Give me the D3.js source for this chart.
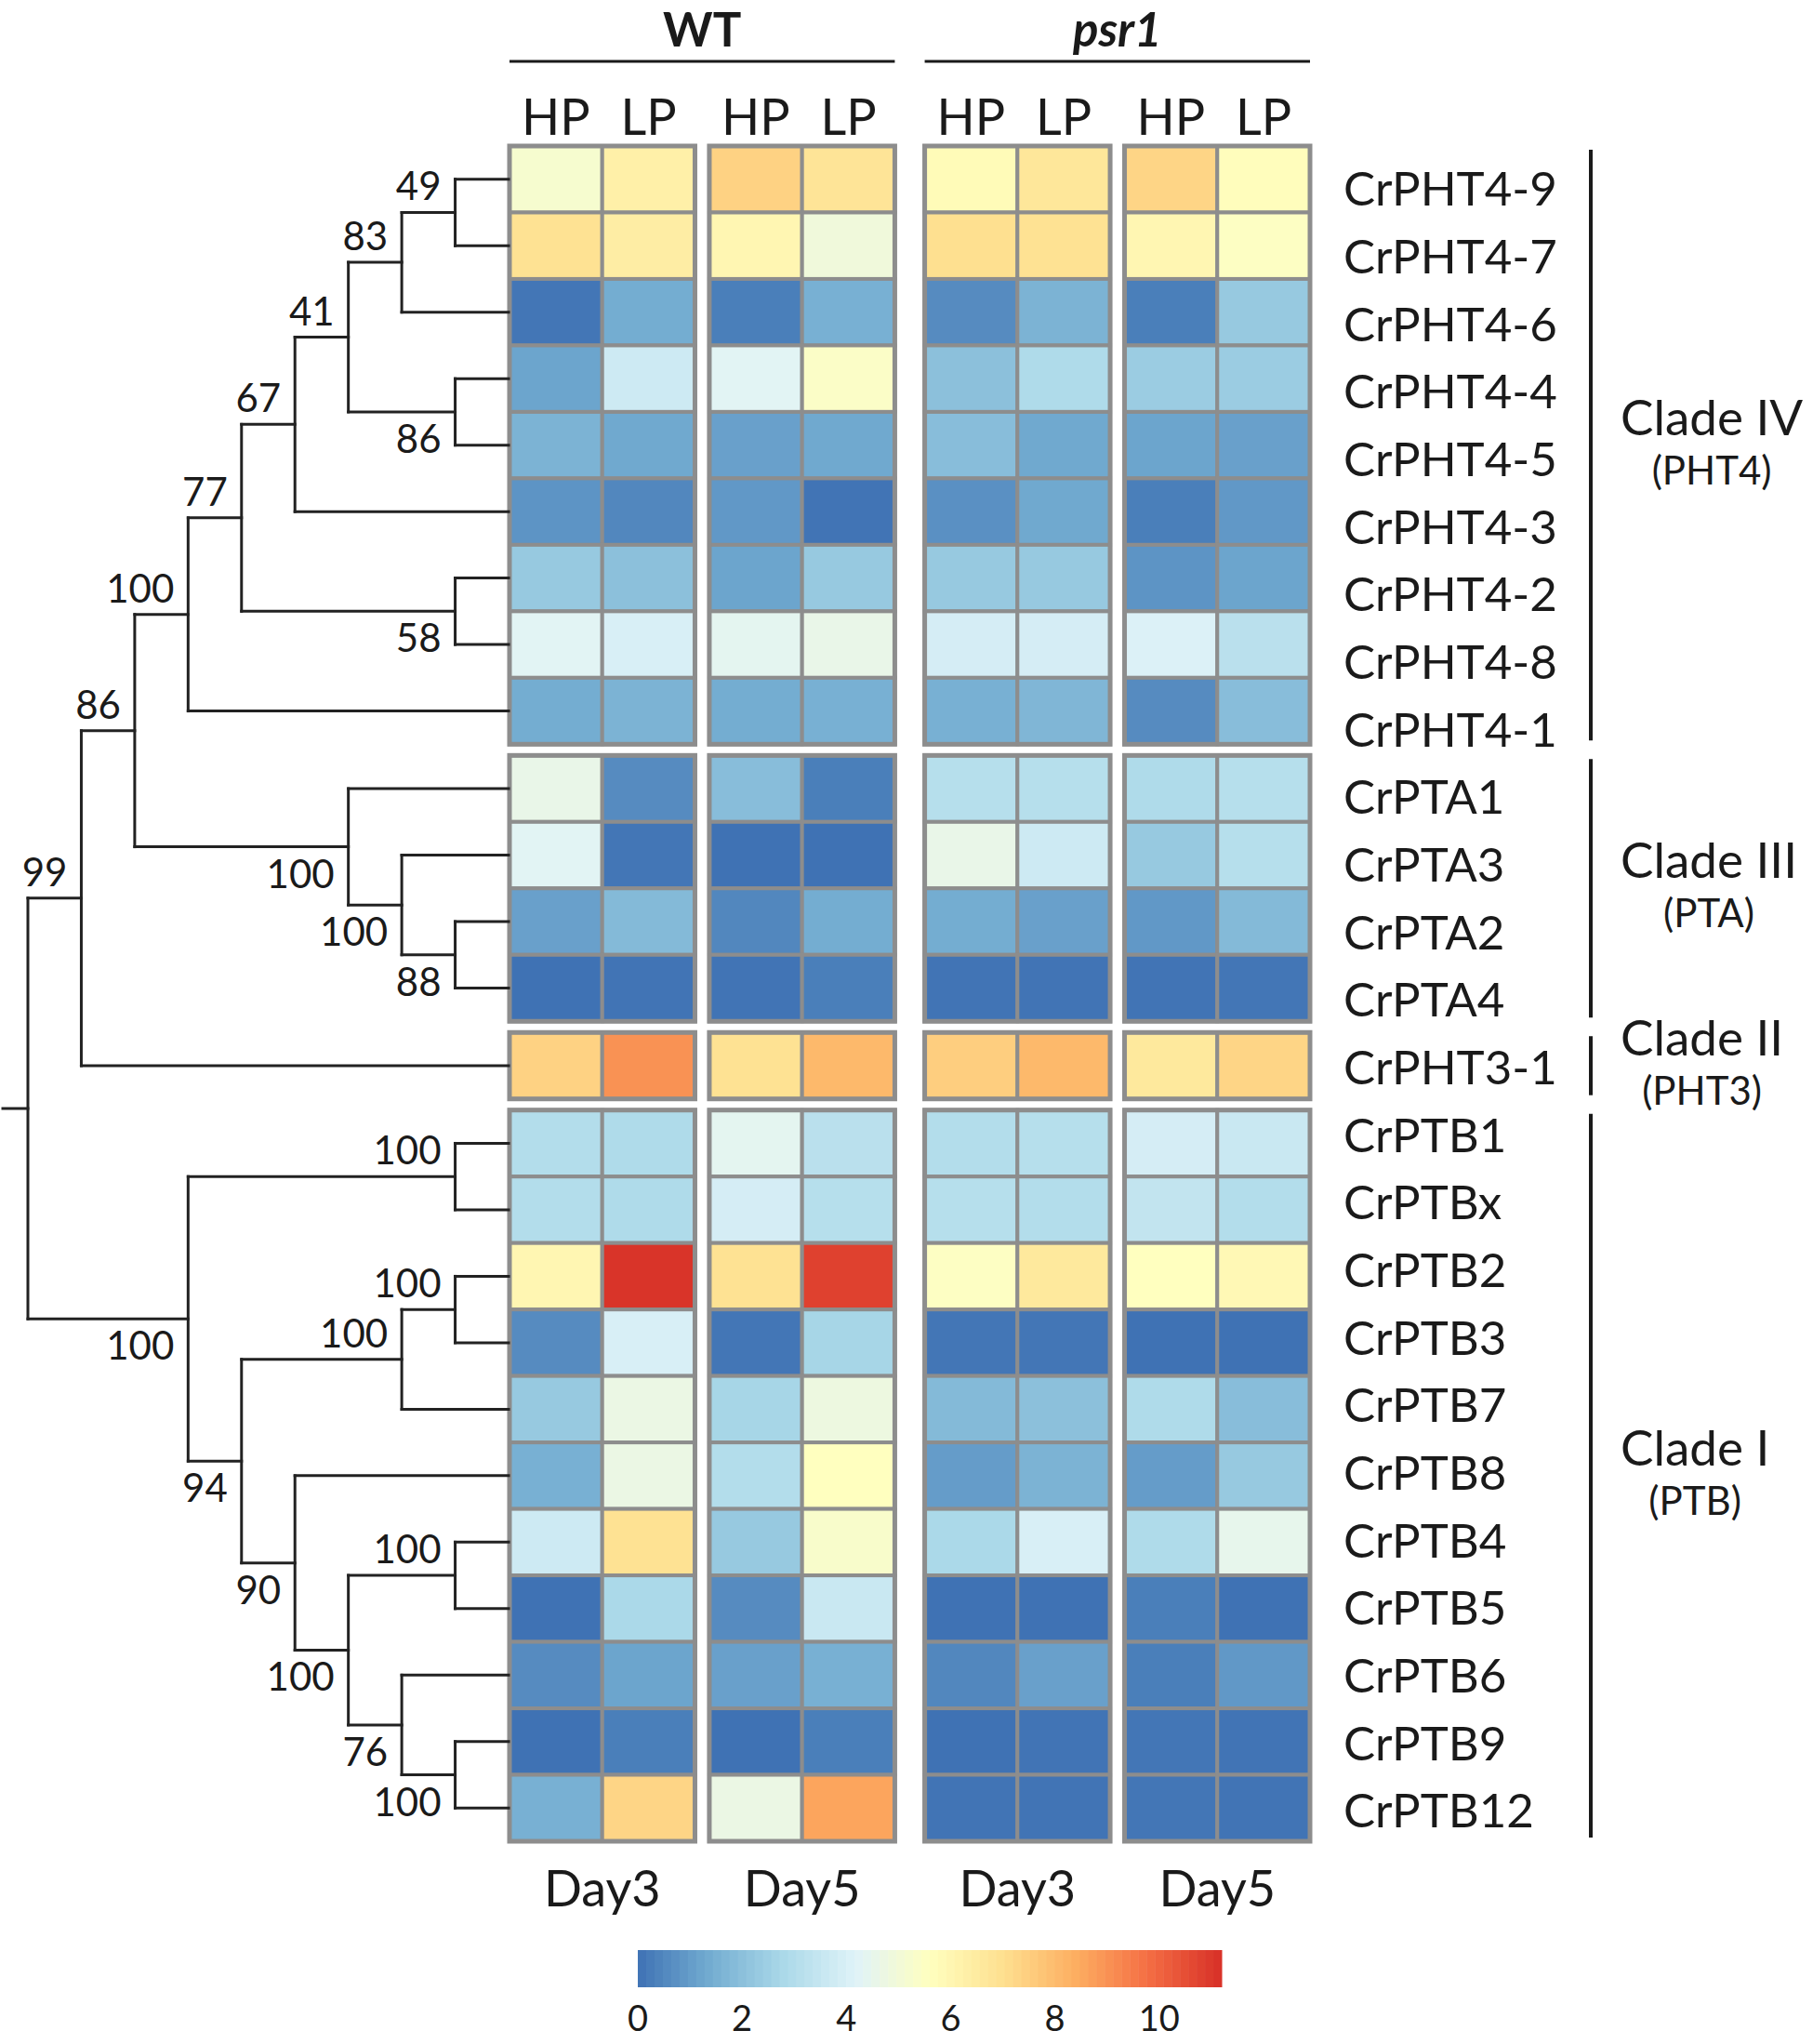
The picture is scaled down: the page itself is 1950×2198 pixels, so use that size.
<!DOCTYPE html>
<html>
<head>
<meta charset="utf-8">
<script src="https://cdn.jsdelivr.net/npm/d3@7"></script>
<style>
body { margin: 0; background: #fff; }
text { font-family: Lato, "Open Sans", sans-serif; fill: #1a1a1a; }
</style>
</head>
<body>
<svg id="chart" width="1950" height="2198"></svg>
<script>
// rows, top to bottom
const genes = ["CrPHT4-9","CrPHT4-7","CrPHT4-6","CrPHT4-4","CrPHT4-5","CrPHT4-3","CrPHT4-2","CrPHT4-8","CrPHT4-1",
	"CrPTA1","CrPTA3","CrPTA2","CrPTA4","CrPHT3-1",
	"CrPTB1","CrPTBx","CrPTB2","CrPTB3","CrPTB7","CrPTB8","CrPTB4","CrPTB5","CrPTB6","CrPTB9","CrPTB12"];
const cladeNames = ["Clade IV","Clade III","Clade II","Clade I"];
const cladeSubs = ["(PHT4)","(PTA)","(PHT3)","(PTB)"];
const cladeSizes = [9, 4, 1, 11];

const genotypes = ["WT","psr1"];
const days = ["Day3","Day5"];
const conditions = ["HP","LP"];

// columns: WT D3 HP, WT D3 LP, WT D5 HP, WT D5 LP, psr1 D3 HP, psr1 D3 LP, psr1 D5 HP, psr1 D5 LP
const expr = [
	[5.2, 6.3, 7.4, 6.8, 5.8, 6.7, 7.3, 5.7],
	[6.9, 6.4, 6.0, 4.9, 7.0, 6.9, 6.0, 5.5],
	[0.1, 1.4, 0.3, 1.5, 0.6, 1.6, 0.3, 2.3],
	[1.2, 3.7, 4.3, 5.4, 2.0, 2.9, 2.4, 2.4],
	[1.6, 1.3, 1.1, 1.3, 1.9, 1.3, 1.2, 1.1],
	[0.8, 0.5, 0.9, 0.05, 0.7, 1.3, 0.3, 0.9],
	[2.3, 2.0, 1.2, 2.3, 2.3, 2.3, 0.8, 1.2],
	[4.3, 4.0, 4.4, 4.6, 3.9, 3.9, 4.1, 3.2],
	[1.4, 1.6, 1.4, 1.5, 1.5, 1.7, 0.6, 1.9],
	[4.6, 0.6, 1.9, 0.3, 3.1, 3.1, 2.9, 3.1],
	[4.3, 0.1, 0.0, 0.0, 4.6, 3.7, 2.3, 3.1],
	[1.1, 1.8, 0.5, 1.4, 1.4, 1.1, 0.9, 1.8],
	[0.0, 0.05, 0.05, 0.3, 0.05, 0.05, 0.05, 0.1],
	[7.4, 9.0, 6.9, 8.1, 7.5, 8.1, 6.6, 7.3],
	[3.0, 2.9, 4.4, 3.2, 3.0, 3.1, 3.9, 3.6],
	[3.0, 2.9, 3.9, 3.1, 3.1, 3.0, 3.4, 3.0],
	[6.0, 11.1, 6.9, 10.8, 5.5, 6.6, 5.6, 5.9],
	[0.6, 4.0, 0.1, 2.7, 0.1, 0.1, 0.0, 0.0],
	[2.3, 4.7, 2.7, 4.8, 1.8, 2.0, 2.9, 1.9],
	[1.5, 4.7, 3.0, 5.6, 1.0, 1.6, 1.0, 2.3],
	[3.7, 6.9, 2.3, 5.3, 2.8, 4.0, 2.9, 4.5],
	[0.0, 2.8, 0.6, 3.6, 0.0, 0.0, 0.3, 0.0],
	[0.6, 1.2, 1.1, 1.5, 0.5, 1.1, 0.3, 0.9],
	[0.0, 0.3, 0.0, 0.3, 0.0, 0.05, 0.1, 0.05],
	[1.5, 7.3, 4.7, 8.6, 0.05, 0.05, 0.1, 0.05]
];

const colorTicks = [0, 2, 4, 6, 8, 10];
const colorMax = 11.2;

// tree with bootstrap support
const newick = "(((((((((CrPHT4-9,CrPHT4-7)49,CrPHT4-6)83,(CrPHT4-4,CrPHT4-5)86)41,CrPHT4-3)67,(CrPHT4-2,CrPHT4-8)58)77,CrPHT4-1)100," +
	"(CrPTA1,(CrPTA3,(CrPTA2,CrPTA4)88)100)100)86,CrPHT3-1)99," +
	"((CrPTB1,CrPTBx)100,(((CrPTB2,CrPTB3)100,CrPTB7)100,(CrPTB8,((CrPTB4,CrPTB5)100,(CrPTB6,(CrPTB9,CrPTB12)100)76)100)90)94)100);";

function parseNewick(s) {
	let i = 0;
	function node() {
		const n = {};
		if (s[i] === "(") {
			i++;
			n.children = [node()];
			while (s[i] === ",") { i++; n.children.push(node()); }
			i++; // ')'
		}
		let tok = "";
		while (i < s.length && !",();".includes(s[i])) tok += s[i++];
		if (n.children) { if (tok) n.support = tok; }
		else n.name = tok;
		return n;
	}
	return node();
}

var svg = d3.select("#chart");

// ---- heatmap scales
var xGeno = d3.scaleBand().domain(genotypes).range([548, 1409]).paddingInner(0.072);
var xDay = d3.scaleBand().domain(days).range([0, xGeno.bandwidth()]).paddingInner(0.072);
var xCond = d3.scaleBand().domain(conditions).range([0, xDay.bandwidth()]);

var gapY = 12;
var cum = d3.cumsum(cladeSizes);
var rowGroup = genes.map((g, i) => d3.bisectRight(cum, i));
var yBand = d3.scaleBand().domain(genes).range([157, 1980 - gapY * (cladeSizes.length - 1)]);
function yTop(g) { return yBand(g) + rowGroup[genes.indexOf(g)] * gapY; }
var yLabel = d3.scalePoint().domain(genes).range([203, 1947]);

var color = d3.scaleLinear()
	.domain(d3.range(9).map(i => i * colorMax / 8))
	.range(["#3f72b4","#74add1","#abd9e9","#e0f3f8","#ffffbf","#fee090","#fdae61","#f46d43","#d73027"]);

// cells
var cells = [];
genes.forEach((g, r) => {
	genotypes.forEach((gt, a) => days.forEach((d, b) => conditions.forEach((c, k) => {
		cells.push({gene: g, geno: gt, day: d, cond: c, value: expr[r][a * 4 + b * 2 + k]});
	})));
});

var cellG = svg.append("g");
cellG.selectAll("rect")
	.data(cells)
	.enter()
	.append("rect")
		.attr("x", d => xGeno(d.geno) + xDay(d.day) + xCond(d.cond))
		.attr("y", d => yTop(d.gene))
		.attr("width", xCond.bandwidth())
		.attr("height", yBand.bandwidth())
		.style("fill", d => color(d.value))
		.style("stroke", "#8d8d8d")
		.style("stroke-width", 4);

// block outlines
var blocks = [];
cladeSizes.forEach((n, ci) => {
	var first = genes[ci === 0 ? 0 : cum[ci - 1]];
	var last = genes[cum[ci] - 1];
	genotypes.forEach(gt => days.forEach(d => blocks.push({geno: gt, day: d, y0: yTop(first), y1: yTop(last) + yBand.bandwidth()})));
});
cellG.selectAll(".blk")
	.data(blocks)
	.enter()
	.append("rect")
		.attr("class", "blk")
		.attr("x", d => xGeno(d.geno) + xDay(d.day))
		.attr("y", d => d.y0)
		.attr("width", xDay.bandwidth())
		.attr("height", d => d.y1 - d.y0)
		.style("fill", "none")
		.style("stroke", "#8d8d8d")
		.style("stroke-width", 5);

// headers
genotypes.forEach(gt => {
	var x0 = xGeno(gt), x1 = x0 + xGeno.bandwidth();
	svg.append("text")
		.attr("x", (x0 + x1) / 2).attr("y", 50)
		.attr("text-anchor", "middle")
		.style("font-size", "51px").style("font-weight", "bold")
		.style("font-style", gt === "WT" ? "normal" : "italic")
		.text(gt);
	svg.append("line")
		.attr("x1", x0).attr("x2", x1).attr("y1", 66).attr("y2", 66)
		.style("stroke", "#1a1a1a").style("stroke-width", 3);
	days.forEach(d => {
		svg.append("text")
			.attr("x", x0 + xDay(d) + xDay.bandwidth() / 2).attr("y", 2050)
			.attr("text-anchor", "middle")
			.style("font-size", "54px")
			.text(d);
		conditions.forEach(c => {
			svg.append("text")
				.attr("x", x0 + xDay(d) + xCond(c) + xCond.bandwidth() / 2).attr("y", 145)
				.attr("text-anchor", "middle")
				.style("font-size", "54px")
				.text(c);
		});
	});
});

// gene labels
svg.append("g").selectAll("text")
	.data(genes)
	.enter()
	.append("text")
		.attr("x", 1445)
		.attr("y", d => yLabel(d))
		.attr("dy", "0.36em")
		.style("font-size", "51px")
		.text(d => d);

// clade brackets
cladeNames.forEach((name, ci) => {
	var first = genes[ci === 0 ? 0 : cum[ci - 1]];
	var last = genes[cum[ci] - 1];
	var y0 = yTop(first) + 4, y1 = yTop(last) + yBand.bandwidth() - 4;
	var mid = (yTop(first) + yTop(last) + yBand.bandwidth()) / 2;
	svg.append("line")
		.attr("x1", 1711).attr("x2", 1711).attr("y1", y0).attr("y2", y1)
		.style("stroke", "#1a1a1a").style("stroke-width", 4);
	var t = svg.append("text")
		.attr("x", 1743).attr("y", mid - 11)
		.style("font-size", "53px")
		.text(name);
	var w = t.node().getComputedTextLength();
	svg.append("text")
		.attr("x", 1743 + w / 2).attr("y", mid + 42)
		.attr("text-anchor", "middle")
		.style("font-size", "42px")
		.text(cladeSubs[ci]);
});

// ---- dendrogram
var root = d3.hierarchy(parseNewick(newick));
d3.cluster().size([1, 517])(root);
root.eachAfter(n => {
	n.px = 30 + n.y;
	n.py = n.children ? d3.mean(n.children, c => c.py) : yTop(n.data.name) + yBand.bandwidth() / 2;
});

var treeG = svg.append("g")
	.style("stroke", "#222")
	.style("stroke-width", 3)
	.style("stroke-linecap", "square")
	.style("fill", "none");

var inner = root.descendants().filter(n => n.children);
treeG.selectAll(".v")
	.data(inner)
	.enter()
	.append("line")
		.attr("x1", d => d.px).attr("x2", d => d.px)
		.attr("y1", d => d.children[0].py)
		.attr("y2", d => d.children[d.children.length - 1].py);
treeG.selectAll(".h")
	.data(root.descendants().filter(n => n.parent))
	.enter()
	.append("line")
		.attr("x1", d => d.parent.px).attr("x2", d => d.px)
		.attr("y1", d => d.py).attr("y2", d => d.py);
treeG.append("line")
	.attr("x1", 3).attr("x2", root.px)
	.attr("y1", root.py).attr("y2", root.py);

// bootstrap values: above the branch for first child, below for second
svg.append("g").selectAll("text")
	.data(inner.filter(n => n.parent && n.data.support))
	.enter()
	.append("text")
		.attr("x", d => d.px - 15)
		.attr("y", d => d.parent.children[0] === d ? d.py - 13 : d.py + 44)
		.attr("text-anchor", "end")
		.style("font-size", "42px")
		.text(d => d.data.support);

// ---- colour bar
var xColor = d3.scaleLinear().domain([0, colorMax]).range([686, 1314]);
var steps = d3.range(0, colorMax, colorMax / 70);
svg.append("g").selectAll("rect")
	.data(steps)
	.enter()
	.append("rect")
		.attr("x", d => xColor(d))
		.attr("y", 2097)
		.attr("width", xColor(colorMax / 70) - xColor(0) + 0.5)
		.attr("height", 40)
		.style("fill", d => color(d + colorMax / 140));
svg.append("g").selectAll("text")
	.data(colorTicks)
	.enter()
	.append("text")
		.attr("x", d => xColor(d))
		.attr("y", 2184)
		.attr("text-anchor", "middle")
		.style("font-size", "38px")
		.text(d => d);
</script>
</body>
</html>
